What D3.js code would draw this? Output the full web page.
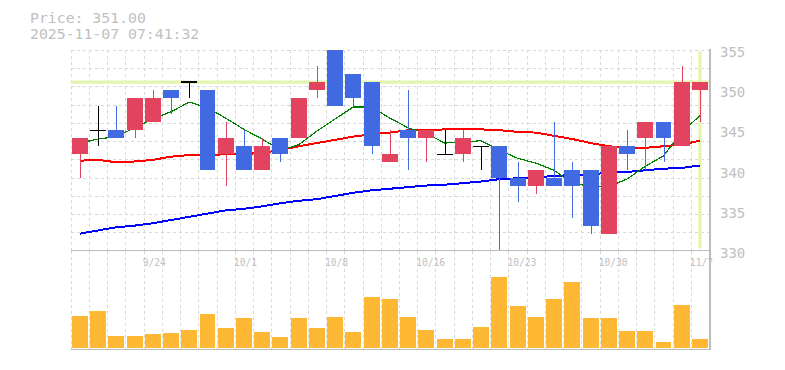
<!DOCTYPE html>
<html>
<head>
<meta charset="utf-8">
<script src="https://cdn.jsdelivr.net/npm/d3@7"></script>
<style>
  html, body { margin: 0; padding: 0; background: #fff; }
  svg { display: block; }
  text { font-family: "DejaVu Sans Mono", "Liberation Mono", monospace; fill: #c0c0c0; }
</style>
</head>
<body>
<svg id="chart" width="785" height="370"></svg>
<script>
  const dates = ["9/17","9/18","9/19","9/22","9/24","9/25","9/26","9/29","9/30","10/1",
                 "10/2","10/3","10/6","10/7","10/8","10/9","10/10","10/14","10/15","10/16",
                 "10/17","10/20","10/21","10/22","10/23","10/24","10/27","10/28","10/29","10/30",
                 "10/31","11/4","11/5","11/6","11/7"];
  const opens  = [342,345,345,345,346,350,351,350,342,343, 340,344,344,350,355,352,351,341,345,344,
                  342,342,343,343,339,338,339,340,340,332, 343,344,346,343,350];
  const highs  = [344,348,348,349,350,350,351,350,346,345, 344,344,349,353,355,352,351,345,350,345,
                  345,345,343,343,341,340,346,341,340,343, 345,346,346,353,351];
  const lows   = [339,343,344,344,346,347,349,340,338,340, 340,341,344,349,348,348,342,341,340,341,
                  342,341,340,330,336,337,338,334,332,332, 340,340,341,343,346];
  const closes = [344,345,344,349,349,349,351,340,344,340, 343,342,349,351,348,349,343,342,344,345,
                  342,344,343,339,338,340,338,338,333,343, 342,346,344,351,351];
  const ma5  = [343.4,343.9,344.2,345.3,346.4,347.3,348.5,347.8,346.5,345.1,
                343.9,342.5,343.2,344.9,346.4,347.9,347.9,346.5,345.3,344.6,
                343.4,343.5,343.7,342.5,341.5,340.9,340.0,338.4,338.0,338.0,
                338.9,340.5,341.8,344.8,346.8];
  const ma25 = [341.2,341.3,341.0,341.1,341.3,341.7,341.9,341.9,342.0,342.0,
                342.2,342.5,343.0,343.4,343.8,344.2,344.5,344.7,345.0,345.0,
                345.1,345.1,345.1,345.0,344.8,344.7,344.3,343.9,343.4,343.0,
                342.8,342.8,343.0,343.2,343.7];
  const ma75 = [332.1,332.5,332.9,333.1,333.4,333.8,334.2,334.6,335.0,335.2,
                335.5,335.9,336.2,336.4,336.8,337.2,337.5,337.7,337.9,338.1,
                338.2,338.4,338.6,338.9,339.0,339.1,339.3,339.4,339.5,339.7,
                339.8,340.0,340.2,340.3,340.6];
  const volumes = [31700,36700,11700,11700,13700,14700,17700,33700,19700,29700,
                   15700,10700,29700,19700,30700,15700,50700,48700,30700,17700,
                    8700, 8700,20700,70700,41700,30700,48700,65700,29700,29700,
                   16700,16700, 5700,42700, 8700];
  const priceTicks = [330, 335, 340, 345, 350, 355];
  const dateTicks = ["9/24","10/1","10/8","10/16","10/23","10/30","11/7"];
  const lastPrice = 351.00;
  const stamp = "2025-11-07 07:41:32";

  const svg = d3.select("#chart");
  const left = 70.7, right = 709.1;
  const pTop = 50, pBottom = 250.5;
  const vTop = 250.5, vBottom = 348;

  const x = d3.scaleBand()
    .domain(d3.range(dates.length))
    .range([left, right])
    .paddingInner(0.123)
    .paddingOuter(0.0615);
  const cx = i => x(i) + x.bandwidth() / 2;
  const y = d3.scaleLinear().domain([330, 355]).range([pBottom, pTop]);
  const yv = d3.scaleLinear().domain([0, 100000]).range([vBottom, vBottom - 100]);

  const gridColor = "#d8d8d8";
  const upColor = "#e2435f", downColor = "#4169e1";

  // grid
  const grid = svg.append("g").attr("shape-rendering", "crispEdges");
  const rows = d3.scaleLinear().domain([0, 11]).range([pTop, pBottom]);
  d3.range(0, 11).forEach(k => {
    grid.append("line")
      .attr("x1", left).attr("x2", right)
      .attr("y1", Math.round(rows(k)) + 0.5).attr("y2", Math.round(rows(k)) + 0.5)
      .attr("stroke", gridColor).attr("stroke-dasharray", "3,3");
  });
  d3.range(0, dates.length).forEach(i => {
    const gx = Math.round(left + i * x.step()) + 0.5;
    [[pTop, pBottom], [vTop, vBottom + 1]].forEach(([a, b]) => {
      grid.append("line")
        .attr("x1", gx).attr("x2", gx).attr("y1", a).attr("y2", b)
        .attr("stroke", gridColor).attr("stroke-dasharray", "3,3");
    });
  });

  // current price highlight
  const hl = "#e4f5ae";
  svg.append("line")
    .attr("x1", left).attr("x2", right + 1)
    .attr("y1", y(lastPrice)).attr("y2", y(lastPrice))
    .attr("stroke", hl).attr("stroke-width", 3.3);
  svg.append("line")
    .attr("x1", cx(dates.length - 1)).attr("x2", cx(dates.length - 1))
    .attr("y1", pTop + 1.5).attr("y2", pBottom - 2)
    .attr("stroke", hl).attr("stroke-width", 3.3);

  // moving averages
  const lineGen = arr => d3.line().x((d, i) => cx(i)).y(d => y(d))(arr);
  svg.append("path").attr("d", lineGen(ma75)).attr("fill", "none")
    .attr("stroke", "#0000ff").attr("stroke-width", 2).attr("shape-rendering", "crispEdges");
  svg.append("path").attr("d", lineGen(ma25)).attr("fill", "none")
    .attr("stroke", "#ff0000").attr("stroke-width", 2).attr("shape-rendering", "crispEdges");
  svg.append("path").attr("d", lineGen(ma5)).attr("fill", "none")
    .attr("stroke", "#008000").attr("stroke-width", 1.2).attr("shape-rendering", "crispEdges");

  // candles
  const candles = svg.append("g").attr("shape-rendering", "crispEdges");
  dates.forEach((d, i) => {
    const o = opens[i], c = closes[i];
    const col = c > o ? upColor : (c < o ? downColor : "#000");
    const wx = Math.round(cx(i)) + 0.5;
    candles.append("line")
      .attr("x1", wx).attr("x2", wx)
      .attr("y1", y(highs[i])).attr("y2", y(lows[i]))
      .attr("stroke", col).attr("stroke-width", 1.2);
    if (c === o) {
      candles.append("line")
        .attr("x1", x(i)).attr("x2", x(i) + x.bandwidth())
        .attr("y1", y(o)).attr("y2", y(o))
        .attr("stroke", "#000").attr("stroke-width", 1.2);
    } else {
      candles.append("rect")
        .attr("x", x(i)).attr("width", x.bandwidth())
        .attr("y", y(Math.max(o, c)))
        .attr("height", y(Math.min(o, c)) - y(Math.max(o, c)))
        .attr("fill", col);
    }
  });

  // volume
  svg.append("g").selectAll("rect").data(volumes).join("rect")
    .attr("x", (d, i) => x(i)).attr("width", x.bandwidth())
    .attr("y", d => yv(d)).attr("height", d => vBottom - yv(d))
    .attr("fill", "#ffb833").attr("shape-rendering", "crispEdges");

  // frame
  const frame = svg.append("g").attr("stroke", "#bcbcbc").attr("stroke-width", 1.5)
    .attr("shape-rendering", "crispEdges");
  frame.append("line").attr("x1", left).attr("x2", right + 1.5).attr("y1", pBottom).attr("y2", pBottom);
  frame.append("line").attr("x1", left).attr("x2", right + 1.5).attr("y1", vBottom + 1.5).attr("y2", vBottom + 1.5);
  frame.append("line").attr("x1", right + 1).attr("x2", right + 1).attr("y1", pTop - 1).attr("y2", vBottom + 1.5);

  // price labels
  svg.append("g").selectAll("text").data(priceTicks).join("text")
    .attr("x", 720).attr("y", d => y(d) + 7.2)
    .attr("font-size", 14)
    .text(d => d);

  // date labels
  svg.append("g").selectAll("text").data(dateTicks).join("text")
    .attr("x", d => left + dates.indexOf(d) * x.step() - 1)
    .attr("y", 266)
    .attr("font-size", 9.6)
    .text(d => d);

  // header
  svg.append("text").attr("x", 30).attr("y", 23).attr("font-size", 14.8)
    .attr("fill", "#c4c4c4").text("Price: " + lastPrice.toFixed(2));
  svg.append("text").attr("x", 30).attr("y", 38.5).attr("font-size", 14.8)
    .attr("fill", "#c4c4c4").text(stamp);
</script>
</body>
</html>
